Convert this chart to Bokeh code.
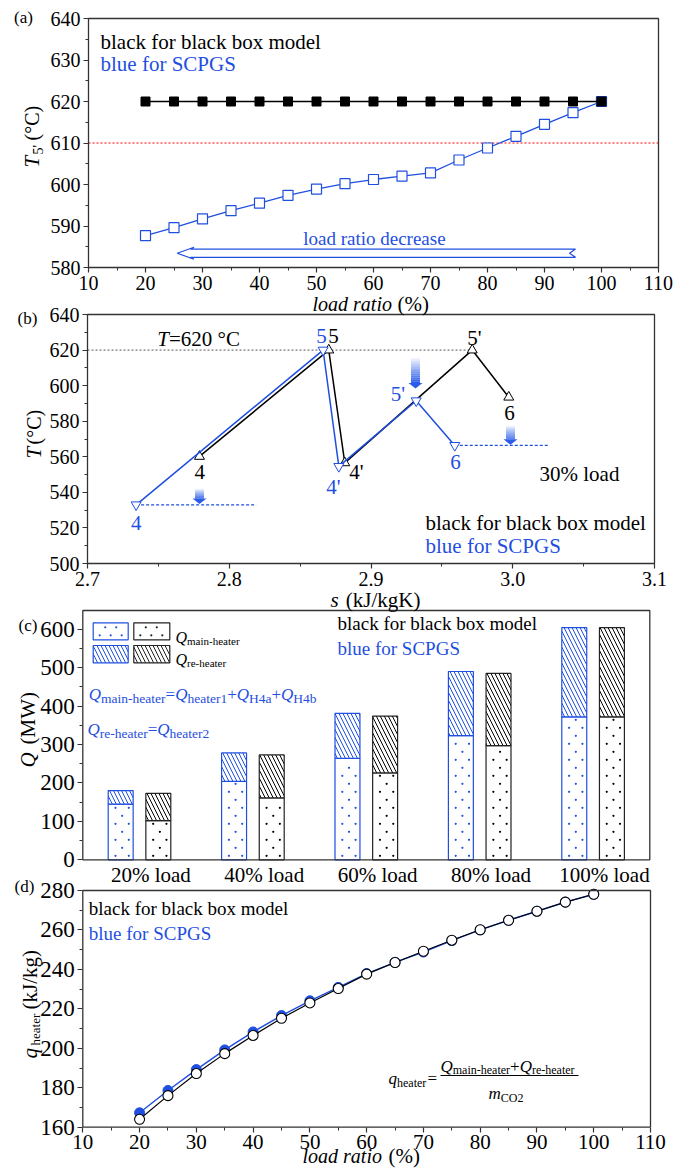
import math
import numpy as np
from bokeh.plotting import figure
from bokeh.models import Range1d, Label, FixedTicker, PrintfTickFormatter, BoxAnnotation
from bokeh.layouts import column
from bokeh.embed import file_html
from bokeh.resources import INLINE

# ---------------- data ----------------
load_ratio = [20, 25, 30, 35, 40, 45, 50, 55, 60, 65, 70, 75, 80, 85, 90, 95, 100]
t5_black = [620, 620, 620, 620, 620, 620, 620, 620, 620, 620, 620, 620, 620, 620, 620, 620, 620]
t5_blue = [587.7, 589.6, 591.7, 593.7, 595.5, 597.4, 598.9, 600.2, 601.2, 602.0, 602.8,
           605.9, 608.8, 611.6, 614.5, 617.3, 620.0]
t_limit = 610

ts_names = ["4", "5", "4'", "5'", "6"]
ts_black_s = [2.779, 2.8702, 2.8815, 2.9714, 2.9972]
ts_black_T = [560.2, 620.0, 556.6, 620.0, 593.5]
ts_blue_s = [2.7343, 2.8662, 2.8773, 2.9319, 2.9591]
ts_blue_T = [533.0, 620.0, 554.6, 591.5, 566.4]

load_cats = ["20% load", "40% load", "60% load", "80% load", "100% load"]
q_main_blue = [145, 204, 264, 323, 372]
q_re_blue = [35, 74, 117, 167, 232]
q_main_black = [102, 161, 226, 297, 372]
q_re_black = [71, 112, 148, 188, 232]

q_heater_black = [164.0, 176.0, 187.2, 197.3, 206.5, 215.2, 223.0, 230.3, 237.6, 243.5, 249.2,
                  254.8, 260.1, 264.9, 269.5, 274.1, 278.1]
q_heater_blue = [167.3, 178.6, 189.2, 199.2, 208.3, 216.6, 224.1, 230.9, 237.9, 243.6, 248.8,
                 254.6, 260.0, 264.9, 269.5, 274.1, 278.1]

# ---------------- style ----------------
FONT = "Liberation Serif"
BLUE = "#1f4fe0"
AX = "#333333"
W = 692

W_REG = {"a": .444, "e": .444, "h": .5, "i": .278, "m": .778, "n": .5, "r": .333,
         "t": .278, "-": .333, "1": .5, "2": .5, "4": .5, "H": .722, "b": .5, "C": .667,
         "O": .722, "=": .564, "+": .564, " ": .25}
W_IT = {"Q": .722, "q": .5, "m": .722}


def make_panel(top, h, box_px, box_data, xticks, xminor, yticks, yminor):
    """Frame covers the whole canvas; axes sit on the box via fixed_location."""
    l, r, t, b = box_px
    x0, x1, y0, y1 = box_data
    kx = (r - l) / (x1 - x0)
    ky = (b - t) / (y1 - y0)
    xr = (x0 - l / kx, x0 + (W - l) / kx)
    yr = (y0 - (top + h - b) / ky, y1 + (t - top) / ky)
    p = figure(width=W, height=h, x_range=Range1d(*xr), y_range=Range1d(*yr),
               output_backend="svg", toolbar_location=None, min_border=0)
    p.xgrid.visible = False
    p.ygrid.visible = False
    p.outline_line_color = None
    p.background_fill_alpha = 0
    p.border_fill_alpha = 0
    p.xaxis.fixed_location = y0
    p.yaxis.fixed_location = x0
    p.xaxis.ticker = FixedTicker(ticks=xticks, minor_ticks=xminor)
    p.yaxis.ticker = FixedTicker(ticks=yticks, minor_ticks=yminor)
    for ax in (p.xaxis[0], p.yaxis[0]):
        ax.axis_line_color = None
        ax.major_tick_line_color = AX
        ax.minor_tick_line_color = AX
        ax.major_tick_line_width = 1.2
        ax.major_tick_out = 5
        ax.major_tick_in = 0
        ax.minor_tick_out = 3
        ax.minor_tick_in = 0
        ax.major_label_text_font = FONT
        ax.major_label_text_color = "black"
        ax.major_label_standoff = 3
    p.add_layout(BoxAnnotation(left=x0, right=x1, bottom=y0, top=y1, fill_color=None,
                               fill_alpha=0, line_color=AX, line_width=1.3, line_alpha=1))

    def conv(px, py):
        return (x0 + (px - l) / kx, y1 - (py - t) / ky)

    return p, conv, kx, ky


def lab(p, xy, text, size, color="black", style="normal", align="left",
        baseline="middle", angle=0.0):
    p.add_layout(Label(x=xy[0], y=xy[1], text=text, text_font=FONT,
                       text_font_size=f"{size}px", text_color=color,
                       text_font_style=style, text_align=align,
                       text_baseline=baseline, angle=angle))


def chain(p, conv, px, py_main, py_sub, pieces, main_size, sub_size, color):
    x = px
    for txt, kind in pieces:
        if kind == "s":
            lab(p, conv(x, py_sub), txt, sub_size, color, baseline="alphabetic")
            x += sum(W_REG.get(c, .5) for c in txt) * sub_size
        elif kind == "m":
            lab(p, conv(x, py_main), txt, main_size, color, style="italic",
                baseline="alphabetic")
            x += sum(W_IT.get(c, .5) for c in txt) * main_size
        else:
            lab(p, conv(x, py_main), txt, main_size, color, baseline="alphabetic")
            x += sum(W_REG.get(c, .5) for c in txt) * main_size
    return x


ROT = math.pi / 2
DIAG = dict(hatch_pattern="left_diagonal_line", hatch_scale=8, hatch_weight=1)

# ================= (a) =================
pa, fa, _, _ = make_panel(0, 300, (88, 658, 18, 267), (10, 110, 580, 640),
                          list(range(10, 111, 10)), list(range(15, 110, 10)),
                          list(range(580, 641, 10)), list(range(585, 640, 10)))
pa.xaxis.major_label_text_font_size = "20px"
pa.yaxis.major_label_text_font_size = "20px"

pa.segment(x0=[10], x1=[110], y0=[t_limit], y1=[t_limit], line_color="red",
           line_dash="2 2", line_width=1)
pa.line(load_ratio, t5_blue, line_color=BLUE, line_width=1.3)
pa.scatter(load_ratio, t5_blue, marker="square", size=10, fill_color="white",
           line_color=BLUE, line_width=1.2)
pa.line(load_ratio, t5_black, line_color="black", line_width=1.3)
pa.scatter(load_ratio, t5_black, marker="square", size=9, fill_color="black",
           line_color="black")

pts = [(176.7, 252.7), (193.5, 246.7), (190.0, 248.6), (575.0, 248.6), (569.0, 252.7),
       (575.0, 256.8), (190.0, 256.8), (193.5, 258.7)]
conv_pts = [fa(*q) for q in pts]
pa.patch([c[0] for c in conv_pts], [c[1] for c in conv_pts], fill_color="white",
         line_color=BLUE, line_width=1.2)
lab(pa, fa(302.7, 237.5), "load ratio decrease", 19, BLUE)

lab(pa, fa(100, 41), "black for black box model", 21)
lab(pa, fa(100, 63.3), "blue for SCPGS", 21, BLUE)
lab(pa, fa(23, 16.5), "(a)", 17, align="center")
lab(pa, fa(31, 167), "T", 21, style="italic", angle=ROT)
lab(pa, fa(37.5, 154), "5'", 14, angle=ROT)
lab(pa, fa(31, 140), "(°C)", 20, angle=ROT)

# ================= (b) =================
pb, fb, _, _ = make_panel(288, 312, (87, 654, 314, 563), (2.7, 3.1, 500, 640),
                          [2.7, 2.8, 2.9, 3.0, 3.1], [2.75, 2.85, 2.95, 3.05],
                          list(range(500, 641, 20)), list(range(510, 640, 20)))
pb.margin = (-12, 0, 0, 0)
pb.xaxis.formatter = PrintfTickFormatter(format="%.1f")
pb.xaxis.major_label_text_font_size = "20px"
pb.yaxis.major_label_text_font_size = "20px"

pb.line([2.7, ts_black_s[3]], [ts_black_T[3], ts_black_T[3]], line_color="#555555",
        line_dash="2 2", line_width=1)
pb.line([ts_blue_s[0], fb(255.7, 0)[0]], [ts_blue_T[0], ts_blue_T[0]], line_color=BLUE,
        line_dash="3 2", line_width=1.2)
pb.line([ts_blue_s[4], fb(547.3, 0)[0]], [ts_blue_T[4], ts_blue_T[4]], line_color=BLUE,
        line_dash="3 2", line_width=1.2)


def grad_arrow(p, xc, y_top, y_bot, color):
    half_w = 4.5 / 1417.5
    head_w = 7.0 / 1417.5
    head_h = 5.5 / 1.779
    n = 14
    shaft_bot = y_bot + head_h
    edges = np.linspace(y_top, shaft_bot, n + 1)
    p.quad(left=[xc - half_w] * n, right=[xc + half_w] * n, top=list(edges[:-1]),
           bottom=list(edges[1:]), fill_color=color,
           fill_alpha=list(np.linspace(0.04, 1.0, n)), line_color=None)
    p.patch([xc - head_w, xc + head_w, xc], [shaft_bot, shaft_bot, y_bot],
            fill_color=color, line_color=None)


grad_arrow(pb, ts_black_s[0], fb(0, 488)[1], ts_blue_T[0] + 0.5, "#2a5ce8")
grad_arrow(pb, fb(415, 0)[0], fb(0, 356.7)[1], fb(0, 388)[1], "#2a5ce8")
grad_arrow(pb, fb(510, 0)[0], fb(0, 425)[1], ts_blue_T[4] + 0.3, "#2a5ce8")

pb.line(ts_black_s, ts_black_T, line_color="black", line_width=1.5)
pb.scatter(ts_black_s, ts_black_T, marker="triangle", size=10, fill_color="white",
           line_color="black", line_width=1)
pb.line(ts_blue_s, ts_blue_T, line_color=BLUE, line_width=1.5)
pb.scatter(ts_blue_s, ts_blue_T, marker="inverted_triangle", size=10,
           fill_color="white", line_color=BLUE, line_width=1)

lab(pb, fb(321, 335), ts_names[1], 21, BLUE, align="center")
lab(pb, fb(333, 335), ts_names[1], 21, align="center")
lab(pb, fb(199.3, 471.7), ts_names[0], 21, align="center")
lab(pb, fb(135.7, 522.7), ts_names[0], 21, BLUE, align="center")
lab(pb, fb(333, 486.7), ts_names[2], 21, BLUE, align="center")
lab(pb, fb(356, 471.7), ts_names[2], 21, align="center")
lab(pb, fb(474, 337.7), ts_names[3], 21, align="center")
lab(pb, fb(397.5, 393.3), ts_names[3], 21, BLUE, align="center")
lab(pb, fb(509, 412.3), ts_names[4], 21, align="center")
lab(pb, fb(455, 461.7), ts_names[4], 21, BLUE, align="center")

lab(pb, fb(156.7, 338.3), "T", 21, style="italic")
lab(pb, fb(168.5, 338.3), "=620 °C", 21)
lab(pb, fb(539, 473.3), "30% load", 21)
lab(pb, fb(425, 522.7), "black for black box model", 21)
lab(pb, fb(425, 545.7), "blue for SCPGS", 21, BLUE)
lab(pb, fb(27, 318), "(b)", 17, align="center")
lab(pb, fb(33, 458), "T", 21, style="italic", angle=ROT)
lab(pb, fb(33, 444), "(°C)", 20, angle=ROT)
lab(pb, fb(312, 303), "load ratio", 20, style="italic")
lab(pb, fb(397, 303), "(%)", 21)

# ================= (c) =================
pc, fc, kxc, kyc = make_panel(585, 310, (82.3, 649.3, 610, 859.3), (0, 50, 0, 648.7),
                              [6, 16, 26, 36, 46], [],
                              list(range(0, 601, 100)), list(range(50, 650, 100)))
pc.margin = (-15, 0, 0, 0)
pc.xaxis.major_label_overrides = {6 + 10 * i: c for i, c in enumerate(load_cats)}
pc.xaxis.major_tick_out = 0
pc.xaxis.minor_tick_out = 0
pc.xaxis.major_label_standoff = 3
pc.xaxis.major_label_text_font_size = "21px"
pc.yaxis.major_label_text_font_size = "23px"

BAR_W = 2.2
x_blue = [10 * i + 5 - 1.66 for i in range(len(load_cats))]
x_black = [10 * i + 5 + 1.66 for i in range(len(load_cats))]
tot_blue = [m + r for m, r in zip(q_main_blue, q_re_blue)]
tot_black = [m + r for m, r in zip(q_main_black, q_re_black)]


def dot_fill(left, bottom, h_px, cols_a, cols_b, step=8.0, start=4.0):
    """Sparse staggered dot texture positions inside a box (data coords)."""
    xs, ys = [], []
    k = 0
    yp = start
    while yp < h_px - 2:
        for c in (cols_a if k % 2 == 0 else cols_b):
            xs.append(left + c / kxc)
            ys.append(bottom + yp / kyc)
        k += 1
        yp += step
    return xs, ys


pc.vbar(x=x_blue, width=BAR_W, bottom=0, top=q_main_blue, fill_color="white",
        line_color=BLUE, line_width=1.2)
pc.vbar(x=x_blue, width=BAR_W, bottom=q_main_blue, top=tot_blue, fill_color="white",
        line_color=BLUE, line_width=1.2, hatch_color=BLUE, **DIAG)
pc.vbar(x=x_black, width=BAR_W, bottom=0, top=q_main_black, fill_color="white",
        line_color="#222222", line_width=1.2)
pc.vbar(x=x_black, width=BAR_W, bottom=q_main_black, top=tot_black, fill_color="white",
        line_color="#222222", line_width=1.2, hatch_color="black", **DIAG)

for xs_, mains, col in ((x_blue, q_main_blue, BLUE), (x_black, q_main_black, "black")):
    dx, dy = [], []
    for xc, m in zip(xs_, mains):
        a, b = dot_fill(xc - BAR_W / 2, 0, m * kyc, [7.3, 20.6], [14.0])
        dx += a
        dy += b
    pc.scatter(dx, dy, marker="circle", size=2.2, fill_color=col, line_color=None)

for (x0_, x1_), col in (((92.7, 127.7), BLUE), ((133.3, 169.3), "#222222")):
    l_, t_ = fc(x0_, 622.3)
    r_, b_ = fc(x1_, 639.3)
    pc.quad(left=[l_], right=[r_], top=[t_], bottom=[b_], fill_color="white",
            line_color=col, line_width=1.2)
    a, b = dot_fill(l_, b_, 17.0, [6.5, 17.5, 28.5], [12.0, 23.0], step=8.0, start=4.5)
    pc.scatter(a, b, marker="circle", size=2.2, fill_color=col, line_color=None)
    l_, t_ = fc(x0_, 645.0)
    r_, b_ = fc(x1_, 662.3)
    pc.quad(left=[l_], right=[r_], top=[t_], bottom=[b_], fill_color="white",
            line_color=col, line_width=1.2, hatch_color=col, **DIAG)

chain(pc, fc, 175, 637, 640.5, [("Q", "m"), ("main-heater", "s")], 16, 11, "black")
chain(pc, fc, 175, 658.5, 662.5, [("Q", "m"), ("re-heater", "s")], 16, 11, "black")

chain(pc, fc, 88.3, 694.0, 698.0,
      [("Q", "m"), ("main-heater", "s"), ("=", "o"), ("Q", "m"), ("heater1", "s"),
       ("+", "o"), ("Q", "m"), ("H4a", "s"), ("+", "o"), ("Q", "m"), ("H4b", "s")],
      17, 13.5, BLUE)
chain(pc, fc, 87, 729.3, 733.3,
      [("Q", "m"), ("re-heater", "s"), ("=", "o"), ("Q", "m"), ("heater2", "s")],
      17, 13.5, BLUE)

lab(pc, fc(337, 623.3), "black for black box model", 19)
lab(pc, fc(337, 648.3), "blue for SCPGS", 19, BLUE)
lab(pc, fc(27.5, 625), "(c)", 17, align="center")
lab(pc, fc(27, 767), "Q", 21, style="italic", angle=ROT)
lab(pc, fc(27, 744), "(MW)", 21, angle=ROT)
lab(pc, fc(330, 599), "s", 21, style="italic")
lab(pc, fc(420, 599), "(kJ/kgK)", 21, align="right")

# ================= (d) =================
pd_, fd, _, _ = make_panel(872, 300, (82.3, 650, 890, 1126.7), (10, 110, 160, 280),
                           list(range(10, 111, 10)), list(range(15, 110, 10)),
                           list(range(160, 281, 20)), list(range(170, 280, 20)))
pd_.margin = (-23, 0, 0, 0)
pd_.xaxis.major_label_text_font_size = "21px"
pd_.yaxis.major_label_text_font_size = "23px"

pd_.line(load_ratio, q_heater_blue, line_color=BLUE, line_width=1.4)
pd_.scatter(load_ratio, q_heater_blue, marker="circle", size=10, fill_color=BLUE,
            line_color=BLUE)
pd_.line(load_ratio, q_heater_black, line_color="black", line_width=1.2)
pd_.scatter(load_ratio, q_heater_black, marker="circle", size=10, fill_color="white",
            line_color="black", line_width=1.1)

lab(pd_, fd(88.3, 908.3), "black for black box model", 19)
lab(pd_, fd(88.3, 933.3), "blue for SCPGS", 19, BLUE)
lab(pd_, fd(24, 886), "(d)", 17, align="center")

chain(pd_, fd, 388, 1078, 1082, [("q", "m"), ("heater", "s")], 17, 12, "black")
lab(pd_, fd(427, 1078), "=", 17, baseline="alphabetic")
chain(pd_, fd, 440, 1066, 1069.5,
      [("Q", "m"), ("main-heater", "s"), ("+", "o"), ("Q", "m"), ("re-heater", "s")],
      17, 12, "black")
fl0 = fd(440, 1075)
fl1 = fd(578, 1075)
pd_.segment(x0=[fl0[0]], y0=[fl0[1]], x1=[fl1[0]], y1=[fl1[1]], line_color="black",
            line_width=1)
chain(pd_, fd, 488, 1093, 1097, [("m", "m"), ("CO2", "s")], 17, 12, "black")

lab(pd_, fd(29, 1058), "q", 21, style="italic", angle=ROT)
lab(pd_, fd(35, 1045), "heater", 13, angle=ROT)
lab(pd_, fd(29, 1009), "(kJ/kg)", 21, angle=ROT)
lab(pd_, fd(302, 1155), "load ratio", 20, style="italic")
lab(pd_, fd(388, 1155), "(%)", 21)

layout = column(pa, pb, pc, pd_, spacing=0)
open("out.html", "w").write(file_html(layout, INLINE))
